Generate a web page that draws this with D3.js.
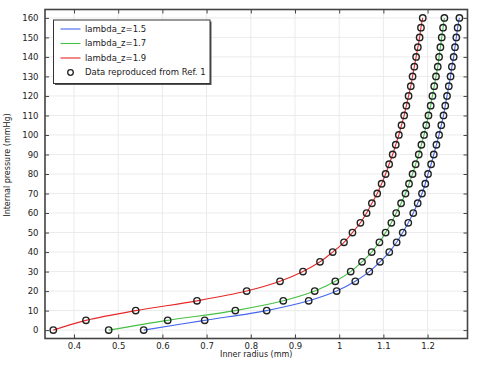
<!DOCTYPE html>
<html><head><meta charset="utf-8">
<script src="https://cdn.jsdelivr.net/npm/d3@7"></script>
<style>body{margin:0;background:#fff}svg{display:block}</style>
</head><body>
<svg id="c" width="483" height="367"></svg>
<script>
const pressures = d3.range(0, 161, 5);
const seriesNames = ["lambda_z=1.5", "lambda_z=1.7", "lambda_z=1.9"];
const seriesColors = ["#4466ee", "#44c044", "#e82828"];
const radius15 = [0.5577,0.6957,0.836,0.931,0.9943,1.0364,1.0681,1.0923,1.1133,1.13,1.1437,1.1563,1.1676,1.1776,1.1873,1.1948,1.201,1.208,1.214,1.220,1.226,1.231,1.236,1.240,1.244,1.248,1.252,1.255,1.259,1.262,1.265,1.268,1.272];
const radius17 = [0.4785,0.612,0.765,0.8735,0.9446,0.9912,1.026,1.0516,1.0735,1.091,1.105,1.118,1.129,1.140,1.150,1.158,1.166,1.173,1.180,1.186,1.192,1.197,1.202,1.207,1.211,1.215,1.219,1.223,1.226,1.229,1.232,1.235,1.238];
const radius19 = [0.3532,0.4271,0.5396,0.6783,0.7907,0.8661,0.9181,0.9566,0.9853,1.0109,1.030,1.048,1.062,1.074,1.086,1.096,1.105,1.113,1.121,1.128,1.135,1.141,1.147,1.152,1.157,1.162,1.166,1.170,1.174,1.178,1.182,1.185,1.189];
const seriesValues = [radius15, radius17, radius19];
const xTicks = [0.4,0.5,0.6,0.7,0.8,0.9,1,1.1,1.2];
const yTicks = d3.range(0, 161, 10);
const xLabel = "Inner radius (mm)";
const yLabel = "Internal pressure (mmHg)";
const markerLabel = "Data reproduced from Ref. 1";

const svg = d3.select("#c");
const L = 45, R = 467.5, T = 9.5, B = 338.5;
const x = d3.scaleLinear().domain([0.3344, 1.2903]).range([L, R]);
const y = d3.scaleLinear().domain([-4.3, 164.3]).range([B, T]);
const font = "DejaVu Sans, sans-serif";

// grid
const g = svg.append("g");
g.selectAll(".gx").data(xTicks).enter().append("line")
  .attr("x1", d => x(d)).attr("x2", d => x(d)).attr("y1", T).attr("y2", B)
  .attr("stroke", "#ebebeb").attr("stroke-width", 1);
g.selectAll(".gy").data(yTicks).enter().append("line")
  .attr("y1", d => y(d)).attr("y2", d => y(d)).attr("x1", L).attr("x2", R)
  .attr("stroke", "#ebebeb").attr("stroke-width", 1);

// axes with inward ticks
const fmt = d => String(d);
const axB = svg.append("g").attr("transform", `translate(0,${B})`)
  .call(d3.axisBottom(x).tickValues(xTicks).tickSize(-4).tickPadding(4).tickFormat(fmt));
const axT = svg.append("g").attr("transform", `translate(0,${T})`)
  .call(d3.axisTop(x).tickValues(xTicks).tickSize(-4).tickFormat(""));
const axL = svg.append("g").attr("transform", `translate(${L},0)`)
  .call(d3.axisLeft(y).tickValues(yTicks).tickSize(-4).tickPadding(6.5).tickFormat(fmt));
const axR = svg.append("g").attr("transform", `translate(${R},0)`)
  .call(d3.axisRight(y).tickValues(yTicks).tickSize(-4).tickFormat(""));
[axB, axT, axL, axR].forEach(a => {
  a.select(".domain").remove();
  a.selectAll(".tick line").attr("stroke", "#444").attr("stroke-width", 1);
  a.selectAll("text").attr("font-family", font).attr("font-size", 8.5).attr("fill", "#222");
});
// frame
svg.append("rect").attr("x", L).attr("y", T).attr("width", R - L).attr("height", B - T)
  .attr("fill", "none").attr("stroke", "#444").attr("stroke-width", 1.6);

// curves
const line = d3.line().x(d => x(d[0])).y(d => y(d[1])).curve(d3.curveCatmullRom.alpha(0.5));
seriesValues.forEach((vals, i) => {
  const pts = vals.map((v, k) => [v, pressures[k]]);
  svg.append("path").datum(pts).attr("d", line)
    .attr("fill", "none").attr("stroke", seriesColors[i]).attr("stroke-width", 1.1);
});
seriesValues.forEach((vals, i) => {
  const pts = vals.map((v, k) => [v, pressures[k]]);
  svg.append("g").selectAll("circle").data(pts).enter().append("circle")
    .attr("cx", d => x(d[0])).attr("cy", d => y(d[1])).attr("r", 3.2)
    .attr("fill", "none").attr("stroke", "#222").attr("stroke-width", 1.4);
});

// axis labels
svg.append("text").attr("x", (L + R) / 2).attr("y", 357).attr("text-anchor", "middle")
  .attr("font-family", font).attr("font-size", 8).attr("fill", "#222").text(xLabel);
svg.append("text").attr("transform", `translate(10,165) rotate(-90)`)
  .attr("text-anchor", "middle").attr("font-family", font).attr("font-size", 8)
  .attr("fill", "#222").text(yLabel);

// legend
const lg = svg.append("g");
const lx = 53.5, ly = 20, lw = 156.5, lh = 63.5;
lg.append("rect").attr("x", lx + 1.5).attr("y", ly + 1.5).attr("width", lw).attr("height", lh).attr("fill", "#555");
lg.append("rect").attr("x", lx).attr("y", ly).attr("width", lw).attr("height", lh)
  .attr("fill", "#fff").attr("stroke", "#333").attr("stroke-width", 1);
const rows = [29, 43.5, 58, 72.5];
seriesNames.forEach((n, i) => {
  lg.append("line").attr("x1", 60.5).attr("x2", 80.5).attr("y1", rows[i]).attr("y2", rows[i])
    .attr("stroke", seriesColors[i]).attr("stroke-width", 1.1);
  lg.append("text").attr("x", 85).attr("y", rows[i]).attr("dy", "0.35em")
    .attr("font-family", font).attr("font-size", 8.5).attr("fill", "#222").text(n);
});
lg.append("circle").attr("cx", 70.5).attr("cy", rows[3]).attr("r", 2.8)
  .attr("fill", "none").attr("stroke", "#222").attr("stroke-width", 1.3);
lg.append("text").attr("x", 85).attr("y", rows[3]).attr("dy", "0.35em")
  .attr("font-family", font).attr("font-size", 8.5).attr("fill", "#222").text(markerLabel);
</script>
</body></html>
